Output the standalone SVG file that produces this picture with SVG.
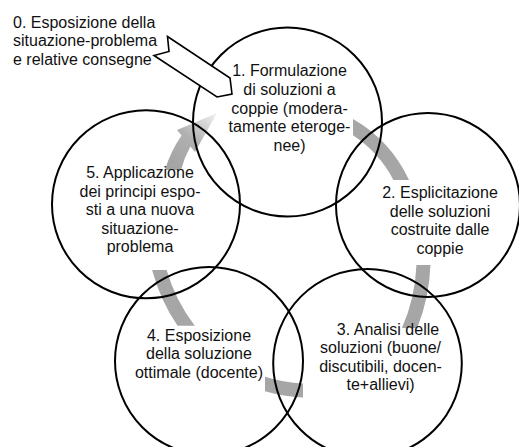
<svg xmlns="http://www.w3.org/2000/svg" width="519" height="447" viewBox="0 0 519 447">
<style>
.ring{fill:none;stroke:#000;stroke-width:2}
.lbl{font-family:"Liberation Sans",Arial,sans-serif;font-size:16px;fill:#111;text-anchor:middle}
.lbl0{font-family:"Liberation Sans",Arial,sans-serif;font-size:16px;fill:#111}
.arc{fill:none;stroke:#a6a6a6;stroke-width:14}
.blk{fill:#fff;stroke:#000;stroke-width:1.6;stroke-linejoin:miter}
</style>
<defs>
<clipPath id="c12"><rect x="353" y="0" width="166" height="180"/></clipPath>
<clipPath id="c23"><rect x="380" y="265" width="80" height="63"/></clipPath>
<clipPath id="c34"><rect x="265" y="360" width="38" height="50"/></clipPath>
<clipPath id="c45"><rect x="130" y="270" width="90" height="55.7"/></clipPath>
<linearGradient id="g51" gradientUnits="userSpaceOnUse" x1="173" y1="170" x2="217" y2="113">
<stop offset="0" stop-color="#a3a3a3"/>
<stop offset="0.5" stop-color="#b0b0b0"/>
<stop offset="1" stop-color="#f3f3f3"/>
</linearGradient>
</defs>
<g id="connectors">
<path class="arc" clip-path="url(#c12)" d="M345.5 122.8 A131 131 0 0 1 404.6 187.3"/>
<path class="arc" clip-path="url(#c23)" d="M423.5 255 A180 180 0 0 1 405 338"/>
<path class="arc" clip-path="url(#c34)" d="M312 390.5 A150 150 0 0 1 256 381"/>
<path class="arc" clip-path="url(#c45)" d="M191.5 333 A179 179 0 0 1 157.5 262.8"/>
<path fill="url(#g51)" d="M217 113 L195 152 L190.4 146.4 Q184 158 181 170 L165 170 Q170.5 151.5 181.6 135.6 L177 130 Z"/>
</g>
<g id="node1">
<circle class="ring" cx="287.5" cy="122" r="94.5"/>
<text class="lbl" x="289.5" y="76">1. Formulazione</text>
<text class="lbl" x="289.5" y="94.8">di soluzioni a</text>
<text class="lbl" x="289.5" y="113.6">coppie (modera-</text>
<text class="lbl" x="289.5" y="132.4">tamente eteroge-</text>
<text class="lbl" x="289.5" y="151.2">nee)</text>
</g>
<g id="node2">
<circle class="ring" cx="428" cy="205" r="92"/>
<text class="lbl" x="440" y="198">2. Esplicitazione</text>
<text class="lbl" x="440" y="216.5">delle soluzioni</text>
<text class="lbl" x="440" y="235">costruite dalle</text>
<text class="lbl" x="440" y="253.5">coppie</text>
</g>
<g id="node3">
<circle class="ring" cx="367.5" cy="363.3" r="94.3"/>
<text class="lbl" x="388" y="335">3. Analisi delle</text>
<text class="lbl" x="380.5" y="353.3">soluzioni (buone/</text>
<text class="lbl" x="380.5" y="371.7">discutibili, docen-</text>
<text class="lbl" x="380.5" y="390">te+allievi)</text>
</g>
<g id="node4">
<circle class="ring" cx="209" cy="361" r="94"/>
<text class="lbl" x="199" y="340.5">4. Esposizione</text>
<text class="lbl" x="199" y="359">della soluzione</text>
<text class="lbl" x="199" y="377.5">ottimale (docente)</text>
</g>
<g id="node5">
<circle class="ring" cx="146" cy="204.3" r="94"/>
<text class="lbl" x="140" y="178">5. Applicazione</text>
<text class="lbl" x="140" y="196.5">dei principi espo-</text>
<text class="lbl" x="140" y="215">sti a una nuova</text>
<text class="lbl" x="140" y="233.5">situazione-</text>
<text class="lbl" x="140" y="252">problema</text>
</g>
<g id="node0">
<text class="lbl0" x="13" y="27.5">0. Esposizione della</text>
<text class="lbl0" x="13" y="46">situazione-problema</text>
<text class="lbl0" x="13" y="64.5">e relative consegne</text>
<polygon class="blk" points="167.5,36.5 230,78 232,94 217,97 154,55.5 169,51.5"/>
</g>
</svg>
